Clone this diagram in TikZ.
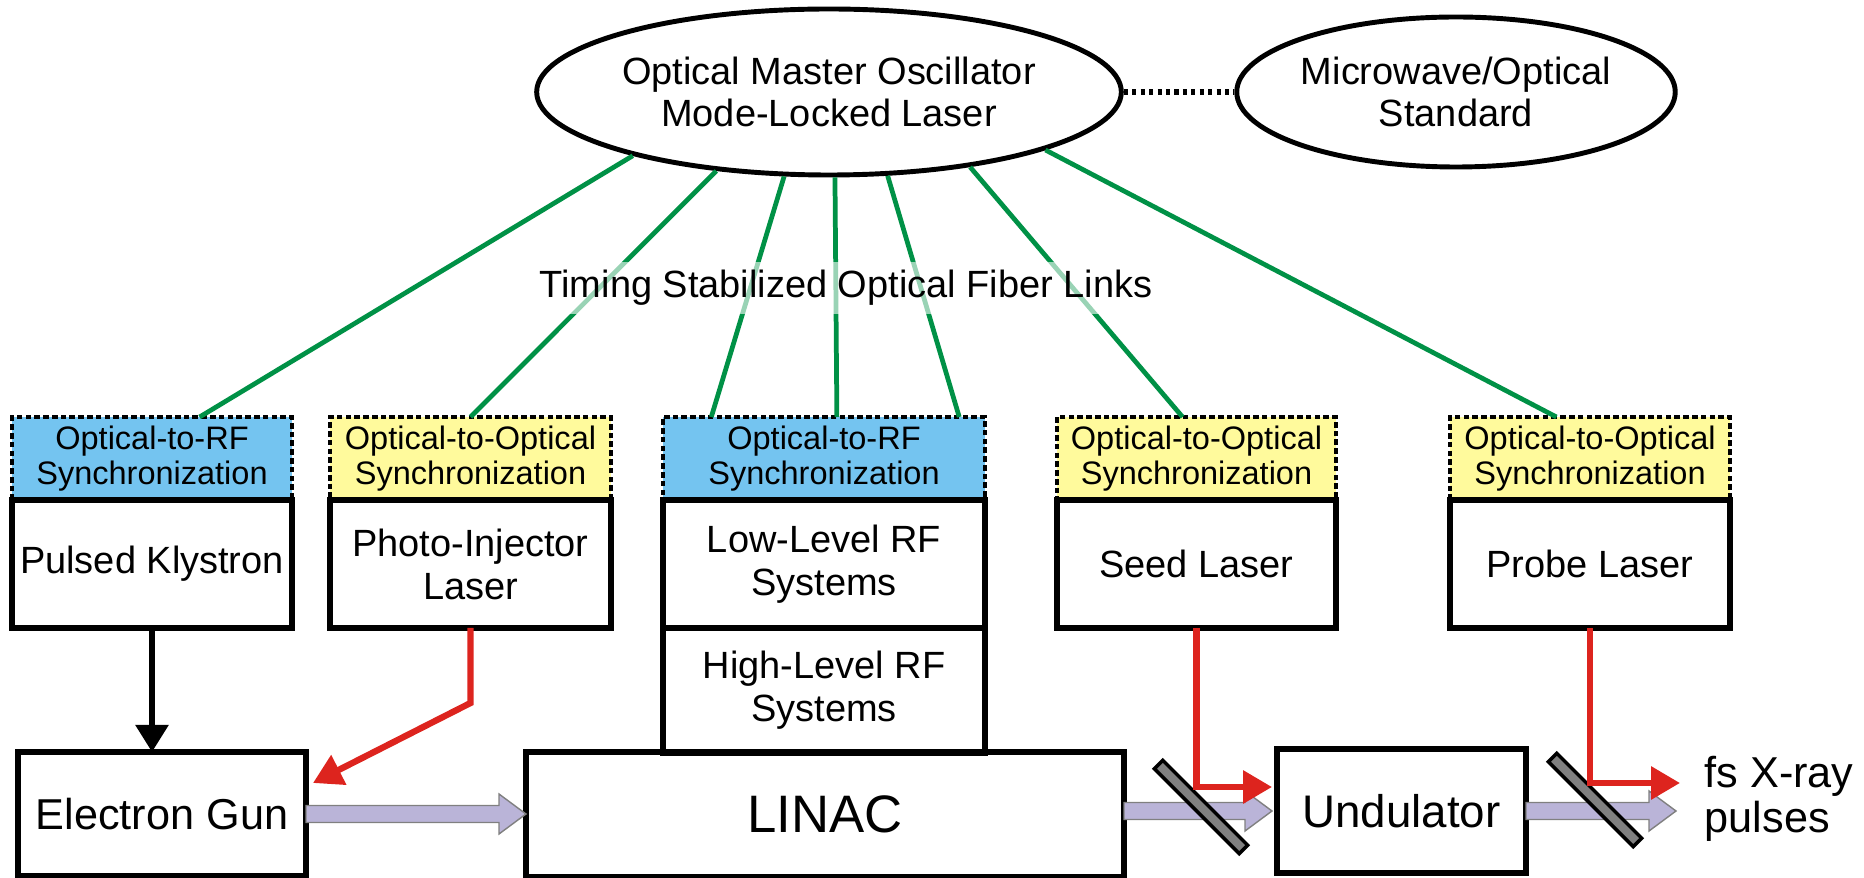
\documentclass[tikz,border=0pt]{standalone}
\usepackage{fontspec}
\setmainfont{Liberation Sans}
\usetikzlibrary{shapes.geometric,arrows.meta,positioning,calc}

\definecolor{syncblue}{RGB}{116,196,240}
\definecolor{syncyellow}{RGB}{255,250,156}
\definecolor{fibergreen}{RGB}{0,145,70}
\definecolor{laserred}{RGB}{221,36,30}
\definecolor{beamlilac}{RGB}{186,180,216}
\definecolor{mirrorgray}{RGB}{128,128,128}

% fat electron beam arrow, horizontal at the height of #1
\newcommand{\beamarrow}[2]{%
  \path[beam] let \p1=(#1), \p2=(#2) in
    (\x1,\y1+0.085cm) -- (\x2-0.27cm,\y1+0.085cm) -- (\x2-0.27cm,\y1+0.2cm)
    -- (\x2,\y1) -- (\x2-0.27cm,\y1-0.2cm) -- (\x2-0.27cm,\y1-0.085cm)
    -- (\x1,\y1-0.085cm) -- cycle;}

\begin{document}
\begin{tikzpicture}[
    oval/.style={ellipse, draw, line width=1.4pt, fill=white, inner sep=0pt, align=center, font=\fontsize{10.8}{12.2}\selectfont},
    sync/.style={draw, line width=1pt, dash pattern=on 1.6pt off 0.9pt, minimum height=0.83cm, inner sep=0pt, outer sep=0pt, align=center, font=\fontsize{9.25}{10}\selectfont},
    box/.style={draw, line width=1.45pt, minimum height=1.28cm, inner sep=0pt, outer sep=0pt, align=center, font=\fontsize{10.8}{12.2}\selectfont},
    fiber/.style={draw=fibergreen, line width=1.35pt},
    laser/.style={draw=laserred, line width=1.8pt, -{Triangle[length=0.29cm,width=0.32cm]}},
    beam/.style={fill=beamlilac, draw=black!50, line width=0.4pt},
    mirror/.style={draw, fill=mirrorgray, line width=1pt, minimum width=1.2cm, minimum height=0.12cm, inner sep=0pt, rotate=-45}
]
    \useasboundingbox (0,0) rectangle (18.64,-8.78);

    % Master oscillator and reference
    \node[oval, minimum width=5.82cm, minimum height=1.66cm] (mo) at (8.29,-0.92) {Optical Master Oscillator\\Mode-Locked Laser};
    \node[oval, minimum width=4.11cm, minimum height=1.50cm] (std) at (14.56,-0.92) {Microwave/Optical\\Standard};
    \draw[line width=1.6pt, dash pattern=on 1.2pt off 1.2pt] (mo.east) -- (std.west);

    % Synchronization heads and the systems below them
    \node[sync, fill=syncblue, minimum width=2.80cm] (s1) at (1.52,-4.585) {Optical-to-RF\\Synchronization};
    \node[box, minimum width=2.80cm, below=0pt of s1] (pk) {Pulsed Klystron};
    \node[sync, fill=syncyellow, minimum width=2.81cm] (s2) at (4.705,-4.585) {Optical-to-Optical\\Synchronization};
    \node[box, minimum width=2.81cm, below=0pt of s2] (pil) {Photo-Injector\\Laser};
    \node[sync, fill=syncblue, minimum width=3.22cm] (s3) at (8.24,-4.585) {Optical-to-RF\\Synchronization};
    \node[box, minimum width=3.22cm, below=0pt of s3] (llrf) {Low-Level RF\\Systems};
    \node[box, minimum width=3.22cm, minimum height=1.25cm, below=0pt of llrf] (hlrf) {High-Level RF\\Systems};
    \node[sync, fill=syncyellow, minimum width=2.79cm] (s4) at (11.965,-4.585) {Optical-to-Optical\\Synchronization};
    \node[box, minimum width=2.79cm, below=0pt of s4] (seed) {Seed Laser};
    \node[sync, fill=syncyellow, minimum width=2.80cm] (s5) at (15.90,-4.585) {Optical-to-Optical\\Synchronization};
    \node[box, minimum width=2.80cm, below=0pt of s5] (probe) {Probe Laser};

    % Beam line
    \node[box, minimum width=2.88cm, minimum height=1.24cm, font=\fontsize{12.3}{14}\selectfont] (eg) at (1.62,-8.14) {Electron Gun};
    \node[box, minimum width=5.98cm, minimum height=1.25cm, font=\fontsize{15}{17}\selectfont] (lin) at (8.25,-8.145) {LINAC};
    \node[box, minimum width=2.49cm, minimum height=1.24cm, font=\fontsize{13}{15}\selectfont] (und) at (14.015,-8.11) {Undulator};
    \node[anchor=west, align=left, inner sep=0pt, font=\fontsize{12.3}{12.8}\selectfont] (fs) at (17.04,-7.99) {fs X-ray\\pulses};
    \coordinate (pulse) at (16.76,-8.06);

    % Fiber links
    \draw[fiber] (mo.198) -- ($(s1.north west)!0.67!(s1.north east)$);
    \draw[fiber] (mo.215) -- (s2.north);
    \draw[fiber] (mo.242) -- ($(s3.north west)!0.15!(s3.north east)$);
    \draw[fiber] (mo.274) -- ($(s3.north west)!0.54!(s3.north east)$);
    \draw[fiber] (mo.305) -- ($(s3.north west)!0.92!(s3.north east)$);
    \draw[fiber] (mo.332) -- ($(s4.north west)!0.45!(s4.north east)$);
    \draw[fiber] (mo.345) -- ($(s5.north west)!0.38!(s5.north east)$);
    \node[fill=white, fill opacity=0.6, text opacity=1, inner sep=0.08cm, font=\fontsize{10.8}{12.2}\selectfont] (links) at (8.46,-2.88) {Timing Stabilized Optical Fiber Links};

    % Electron beam and mirrors
    \beamarrow{eg.east}{lin.west}
    \beamarrow{lin.east |- und.west}{[xshift=-0.05cm]und.west}
    \beamarrow{und.east}{pulse}
    \node[mirror] (m1) at (12.01,-8.07) {};
    \node[mirror] (m2) at (15.95,-8.00) {};

    % Drive and laser paths
    \draw[line width=1.6pt, -{Triangle[length=0.27cm,width=0.32cm]}] (pk.south) -- (pk.south |- eg.north);
    \draw[laser] (pil.south) -- ++(0,-0.75) -- ([shift={(0.07,-0.31)}]eg.north east);
    \draw[laser] (seed.south) |- ([shift={(-0.05,0.24)}]und.west);
    \draw[laser] (probe.south) |- ([shift={(0.04,0.23)}]pulse);
\end{tikzpicture}
\end{document}
